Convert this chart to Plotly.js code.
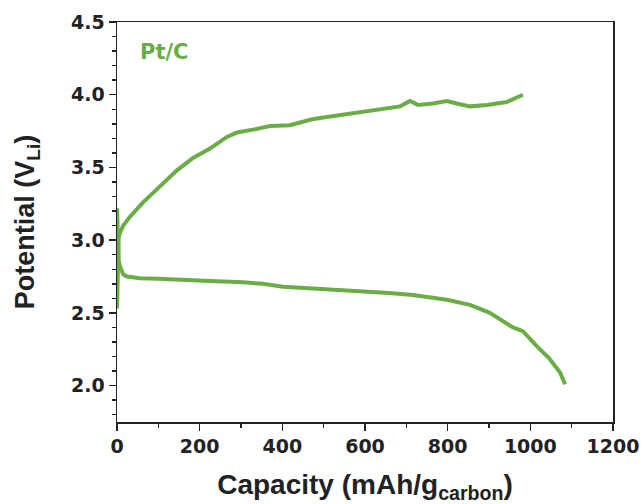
<!DOCTYPE html>
<html>
<head>
<meta charset="utf-8">
<script src="https://cdn.plot.ly/plotly-3.0.1.min.js"></script>
<style>
  html, body { margin: 0; padding: 0; background: #fff; }
  #chart { width: 644px; height: 504px; }
</style>
</head>
<body>
<div id="chart"></div>
<script>
// Charge branch (capacity in mAh/g_carbon, potential in V vs Li)
const chargeCapacity = [0, 1, 2, 4, 7, 15, 31, 63, 104, 145, 184, 225, 266, 290, 329, 370, 418, 443, 470, 491, 540, 588, 653, 685, 709, 728, 764, 798, 822, 854, 895, 943, 982];
const chargePotential = [2.53, 2.75, 2.98, 3.02, 3.05, 3.10, 3.16, 3.26, 3.37, 3.48, 3.565, 3.63, 3.71, 3.74, 3.76, 3.785, 3.79, 3.81, 3.83, 3.84, 3.86, 3.88, 3.91, 3.92, 3.957, 3.93, 3.94, 3.957, 3.94, 3.92, 3.93, 3.95, 4.0];

// Discharge branch
const dischargeCapacity = [0, 1, 2, 4, 7, 15, 24, 40, 56, 100, 145, 225, 305, 353, 402, 498, 595, 658, 716, 798, 854, 902, 958, 982, 1016, 1045, 1072, 1084];
const dischargePotential = [3.22, 3.05, 2.92, 2.86, 2.82, 2.765, 2.75, 2.742, 2.738, 2.735, 2.732, 2.72, 2.71, 2.70, 2.68, 2.665, 2.645, 2.637, 2.623, 2.59, 2.555, 2.50, 2.40, 2.375, 2.27, 2.19, 2.09, 2.01];

const xTicks = [0, 200, 400, 600, 800, 1000, 1200];
const yTicks = [2.0, 2.5, 3.0, 3.5, 4.0, 4.5];

const green = '#6aac45';
const ink = '#222';
const titleFamily = 'Arial, "Liberation Sans", Helvetica, sans-serif';
const tickFamily = '"DejaVu Sans", Verdana, sans-serif';

const traces = [
  { x: dischargeCapacity, y: dischargePotential, mode: 'lines', line: { color: green, width: 4 }, hoverinfo: 'skip' },
  { x: chargeCapacity, y: chargePotential, mode: 'lines', line: { color: green, width: 4 }, hoverinfo: 'skip' }
];

const axisCommon = {
  showline: true, linecolor: ink, linewidth: 1.5, mirror: true,
  ticks: 'outside', ticklen: 7, tickwidth: 1.5, tickcolor: ink,
  showgrid: false, zeroline: false,
  tickfont: { family: tickFamily, size: 19, color: ink, weight: 'bold' }
};

const layout = {
  width: 644, height: 504,
  margin: { l: 117, r: 31, t: 22, b: 82 },
  paper_bgcolor: '#fff', plot_bgcolor: '#fff',
  showlegend: false,
  xaxis: Object.assign({}, axisCommon, {
    range: [0, 1200],
    tickvals: xTicks, ticktext: xTicks.map(String),
    minor: { dtick: 100, tick0: 0, ticks: 'outside', ticklen: 4, tickwidth: 1.5, tickcolor: ink },
    title: { text: 'Capacity (mAh/g<sub>carbon</sub>)', standoff: 18,
             font: { family: titleFamily, size: 28, color: ink, weight: 'bold' } }
  }),
  yaxis: Object.assign({}, axisCommon, {
    range: [1.75, 4.5],
    tickvals: yTicks, ticktext: yTicks.map(v => v.toFixed(1)),
    minor: { dtick: 0.1, tick0: 0, ticks: 'outside', ticklen: 4, tickwidth: 1.5, tickcolor: ink },
    title: { text: 'Potential (V<sub>Li</sub>)', standoff: 28,
             font: { family: titleFamily, size: 27, color: ink, weight: 'bold' } }
  }),
  annotations: [{
    text: 'Pt/C', x: 50, y: 4.297, xref: 'x', yref: 'y',
    xanchor: 'left', yanchor: 'middle', showarrow: false,
    font: { family: tickFamily, size: 21, color: green, weight: 'bold' }
  }]
};

Plotly.newPlot('chart', traces, layout, { displayModeBar: false, staticPlot: true });
</script>
</body>
</html>
